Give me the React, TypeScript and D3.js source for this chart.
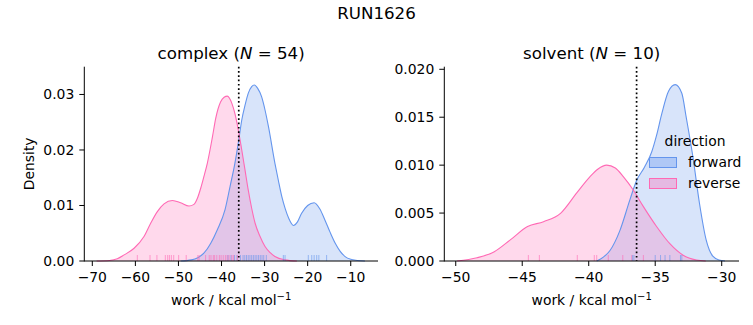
import React from "react";
import * as d3 from "d3";

// ---------- data ----------
const directions = ["forward", "reverse"];

// complex phase: KDE curves (work value, density)
const complexForwardWork = [-49.5, -47, -45.5, -44.1, -42.5, -41.0, -39.2, -38.0, -36.9, -36.0, -35.3, -34.5, -33.8, -33.0, -32.4, -31.6, -30.7, -29.9, -29.1, -27.6, -26.8, -26.0, -25.2, -24.4, -23.3, -22.4, -21.4, -20.0, -18.5, -17.2, -16.0, -14.8, -13.6, -12.4, -11.3, -10.0, -8.5, -6.7];
const complexForwardDensity = [0, 0.0002, 0.0006, 0.0014, 0.0032, 0.0056, 0.0092, 0.0135, 0.0176, 0.0218, 0.0254, 0.0282, 0.0302, 0.0314, 0.0317, 0.0311, 0.0296, 0.0272, 0.0242, 0.0176, 0.0145, 0.0116, 0.0094, 0.0077, 0.0064, 0.007, 0.0086, 0.01, 0.0105, 0.0094, 0.0074, 0.0052, 0.0032, 0.0017, 0.0008, 0.0003, 0.0001, 0];
const complexReverseWork = [-69, -66, -64.2, -62.6, -60.3, -58.0, -56.45, -54.9, -53.35, -51.4, -49.5, -47.55, -46.4, -45.6, -44.8, -44.1, -43.3, -42.1, -41.35, -40.2, -39.4, -38.65, -37.6, -36.9, -36.1, -35.3, -34.55, -33.8, -33.0, -32.2, -31.05, -29.9, -28.7, -27.6, -25.3, -22.5];
const complexReverseDensity = [0, 0.0001, 0.0004, 0.0011, 0.0023, 0.0044, 0.0068, 0.0089, 0.0103, 0.0109, 0.0105, 0.0099, 0.0102, 0.0113, 0.0132, 0.0152, 0.0176, 0.0224, 0.0257, 0.0287, 0.0295, 0.0297, 0.0284, 0.0266, 0.0236, 0.02, 0.0164, 0.0128, 0.0095, 0.0068, 0.0044, 0.0026, 0.0015, 0.0008, 0.0002, 0];

// solvent phase
const solventForwardWork = [-39.4, -38.9, -38.4, -37.65, -36.9, -36.4, -35.8, -35.26, -34.9, -34.5, -34.0, -33.5, -33.0, -32.67, -32.17, -31.67, -31.17, -30.67, -30.2, -29.75];
const solventForwardDensity = [0, 0.0004, 0.0011, 0.0032, 0.0064, 0.0084, 0.0098, 0.0114, 0.0131, 0.0154, 0.0177, 0.0184, 0.0175, 0.015, 0.0109, 0.006, 0.0022, 0.0005, 0.0001, 0];
const solventReverseWork = [-49.9, -48.4, -47.1, -45.9, -44.6, -43.4, -42.1, -40.9, -39.9, -39.3, -38.65, -38.0, -37.4, -36.65, -35.9, -34.9, -33.9, -32.9, -31.9, -31.2];
const solventReverseDensity = [0, 0.00034, 0.00097, 0.0022, 0.0036, 0.0041, 0.005, 0.0071, 0.0088, 0.0096, 0.01, 0.0097, 0.0088, 0.0074, 0.0057, 0.0036, 0.0018, 0.0006, 0.0001, 0];

// rug samples
const complexForwardRug = [-38.5, -37.8, -37.0, -36.4, -35.6, -35.0, -34.6, -34.2, -33.8, -33.4, -33.0, -32.6, -32.2, -31.8, -31.4, -31.0, -30.6, -30.2, -29.6, -25.65, -25.25, -19.85, -19.05, -18.5, -17.9, -17.4, -15.6];
const complexReverseRug = [-59.55, -56.6, -55.0, -53.05, -52.5, -52.1, -51.65, -51.1, -49.95, -48.2, -45.5, -45.2, -43.7, -42.85, -42.45, -41.9, -41.6, -41.1, -40.5, -40.1, -39.6, -39.1, -38.7, -38.25, -37.6, -37.25, -36.3];
const solventForwardRug = [-36.7, -36.6, -35.0, -34.6, -34.26, -33.9, -33.1, -33.0];
const solventReverseRug = [-44.54, -43.71, -40.86, -39.58, -39.4, -38.53, -37.44, -36.77, -35.89];

const complexXTicks = [-70, -60, -50, -40, -30, -20, -10];
const complexYTicks = [0, 0.01, 0.02, 0.03];
const solventXTicks = [-50, -45, -40, -35, -30];
const solventYTicks = [0, 0.005, 0.01, 0.015, 0.02];

const complexFreeEnergy = -36.0;
const solventFreeEnergy = -36.4;

// ---------- styling ----------
const W = 753;
const H = 325;
const FONT = "'DejaVu Sans', sans-serif";
const BLUE = "#6495ED";
const PINK = "#FF69B4";
const colors: Record<string, string> = { forward: BLUE, reverse: PINK };
const TICK_FS = 13.9;
const TITLE_FS = 16.67;

type Series = { name: string; work: number[]; density: number[]; rug: number[] };

function Panel(props: {
  x0: number; x1: number; y0: number; y1: number;
  xDomain: [number, number]; yDomain: [number, number];
  xTicks: number[]; yTicks: number[]; yDigits: number;
  series: Series[]; vline: number;
  title: string; n: number; yLabel?: boolean; legend?: boolean;
}) {
  const { x0, x1, y0, y1 } = props;
  const x = d3.scaleLinear().domain(props.xDomain).range([x0, x1]);
  const y = d3.scaleLinear().domain(props.yDomain).range([y1, y0]);
  const area = d3.area<[number, number]>().x((d) => x(d[0])).y0(y(0)).y1((d) => y(d[1])).curve(d3.curveMonotoneX);
  const line = d3.line<[number, number]>().x((d) => x(d[0])).y((d) => y(d[1])).curve(d3.curveMonotoneX);
  const fmt = d3.format(`.${props.yDigits}f`);
  const minus = (s: string) => s.replace("-", "\u2212");
  const cx = (x0 + x1) / 2;
  const pts = (s: Series) => s.work.map((w, i) => [w, s.density[i]] as [number, number]);
  return (
    <g>
      {props.series.map((s) => (
        <path key={"a" + s.name} d={area(pts(s)) || ""} fill={colors[s.name]} fillOpacity={0.25} stroke="none" />
      ))}
      {props.series.map((s) => (
        <path key={"l" + s.name} d={line(pts(s)) || ""} fill="none" stroke={colors[s.name]} strokeWidth={1.1} />
      ))}
      {props.series.map((s) =>
        s.rug.map((v, i) => (
          <line key={s.name + "r" + i} x1={x(v)} x2={x(v)} y1={y1} y2={y1 - 6} stroke={colors[s.name]} strokeWidth={1} strokeOpacity={0.6} />
        ))
      )}
      <line x1={x(props.vline)} x2={x(props.vline)} y1={y0} y2={y1} stroke="#000" strokeWidth={1.7} strokeDasharray="1.7 2.6" />
      {/* spines */}
      <line x1={x0} x2={x0} y1={y0} y2={y1 + 0.5} stroke="#000" strokeWidth={1} />
      <line x1={x0} x2={x1} y1={y1} y2={y1} stroke="#000" strokeWidth={1} />
      {props.xTicks.map((t) => (
        <g key={"xt" + t}>
          <line x1={x(t)} x2={x(t)} y1={y1} y2={y1 + 5} stroke="#000" strokeWidth={1} />
          <text x={x(t)} y={y1 + 21} textAnchor="middle" fontSize={TICK_FS} fontFamily={FONT} fill="#000">{minus(String(t))}</text>
        </g>
      ))}
      {props.yTicks.map((t) => (
        <g key={"yt" + t}>
          <line x1={x0 - 5} x2={x0} y1={y(t)} y2={y(t)} stroke="#000" strokeWidth={1} />
          <text x={x0 - 10} y={y(t)} dy="0.35em" textAnchor="end" fontSize={TICK_FS} fontFamily={FONT} fill="#000">{fmt(t)}</text>
        </g>
      ))}
      <text x={cx} y={y1 + 44} textAnchor="middle" fontSize={TICK_FS} fontFamily={FONT} fill="#000">
        work / kcal mol<tspan dy={-5} fontSize={10}>{"\u22121"}</tspan>
      </text>
      <text x={cx} y={59} textAnchor="middle" fontSize={TITLE_FS} fontFamily={FONT} fill="#000">
        {props.title} (<tspan fontStyle="italic">N</tspan>{" = "}{props.n})
      </text>
      {props.yLabel && (
        <text transform={`translate(34,${(y0 + y1) / 2}) rotate(-90)`} textAnchor="middle" fontSize={TICK_FS} fontFamily={FONT} fill="#000">Density</text>
      )}
      {props.legend && (
        <g>
          <text x={695} y={146} textAnchor="middle" fontSize={TICK_FS} fontFamily={FONT} fill="#000">direction</text>
          {directions.map((d, i) => (
            <g key={"lg" + d}>
              <rect x={649.5} y={157.5 + i * 21} width={27} height={10} fill={colors[d]} fillOpacity={0.35} stroke={colors[d]} strokeWidth={1} />
              <text x={688} y={167 + i * 21} fontSize={TICK_FS} fontFamily={FONT} fill="#000">{d}</text>
            </g>
          ))}
        </g>
      )}
    </g>
  );
}

export default function App() {
  const complexSeries: Series[] = [
    { name: "forward", work: complexForwardWork, density: complexForwardDensity, rug: complexForwardRug },
    { name: "reverse", work: complexReverseWork, density: complexReverseDensity, rug: complexReverseRug },
  ];
  const solventSeries: Series[] = [
    { name: "forward", work: solventForwardWork, density: solventForwardDensity, rug: solventForwardRug },
    { name: "reverse", work: solventReverseWork, density: solventReverseDensity, rug: solventReverseRug },
  ];
  return (
    <div style={{ position: "absolute", left: 0, top: 0 }}>
      <svg width={W} height={H} style={{ display: "block", background: "#fff" }}>
        <text x={376.5} y={19} textAnchor="middle" fontSize={TITLE_FS} fontFamily={FONT} fill="#000">RUN1626</text>
        <Panel x0={84.3} x1={378} y0={66.7} y1={261} xDomain={[-71.86, -3.67]} yDomain={[0, 0.035]}
          xTicks={complexXTicks} yTicks={complexYTicks} yDigits={2} series={complexSeries}
          vline={complexFreeEnergy} title="complex" n={54} yLabel />
        <Panel x0={444.3} x1={739} y0={66.7} y1={261} xDomain={[-50.86, -28.7]} yDomain={[0, 0.02027]}
          xTicks={solventXTicks} yTicks={solventYTicks} yDigits={3} series={solventSeries}
          vline={solventFreeEnergy} title="solvent" n={10} legend />
      </svg>
    </div>
  );
}
